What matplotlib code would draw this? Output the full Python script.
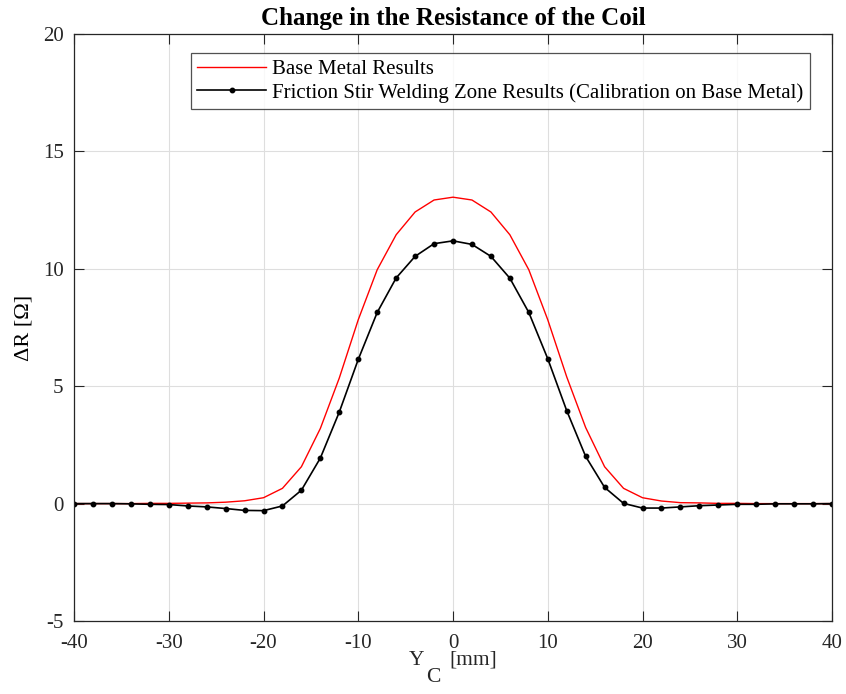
import numpy as np
import matplotlib
matplotlib.use("Agg")
import matplotlib.pyplot as plt

plt.rcParams['font.family'] = ['Liberation Serif', 'DejaVu Serif']
plt.rcParams['axes.unicode_minus'] = False

# Coil position Y_C [mm]
y_c = list(range(-40, 41, 2))

# Base metal resistance change [Ohm]
base_metal = [0.00, 0.00, 0.00, 0.00, 0.01, 0.01, 0.02, 0.03, 0.06, 0.12,
              0.25, 0.65, 1.57, 3.20, 5.35, 7.83, 9.96, 11.45, 12.42, 12.93,
              13.05,
              12.93, 12.42, 11.45, 9.96, 7.83, 5.40, 3.24, 1.57, 0.65, 0.25,
              0.11, 0.04, 0.03, 0.01, 0.01, 0.00, 0.00, 0.00, 0.00, 0.00]

# Friction stir welding zone resistance change [Ohm]
fsw_zone = [0.00, 0.00, 0.00, -0.01, -0.03, -0.04, -0.10, -0.14, -0.21, -0.29,
            -0.30, -0.10, 0.57, 1.94, 3.90, 6.14, 8.14, 9.61, 10.53, 11.07,
            11.19,
            11.04, 10.53, 9.60, 8.14, 6.17, 3.96, 2.01, 0.69, 0.01, -0.19,
            -0.19, -0.14, -0.09, -0.06, -0.03, -0.03, -0.01, -0.01, -0.01, 0.00]

x_ticks = [-40, -30, -20, -10, 0, 10, 20, 30, 40]
y_ticks = [-5, 0, 5, 10, 15, 20]

W, H = 846, 694
fig = plt.figure(figsize=(W / 100, H / 100), dpi=100)
ax = fig.add_axes([74 / W, 1 - 621 / H, (832 - 74) / W, (621 - 34) / H])

ax.plot(y_c, base_metal, color='#ff0000', lw=1.0, label='Base Metal Results')
ax.plot(y_c, fsw_zone, color='black', lw=1.2, marker='o', markersize=3.2,
        label='Friction Stir Welding Zone Results (Calibration on Base Metal)')

ax.set_xlim(-40, 40)
ax.set_ylim(-5, 20)
ax.set_xticks(x_ticks)
ax.set_yticks(y_ticks)
ax.grid(True, color='#dedede', lw=0.8)
ax.set_axisbelow(True)
ax.tick_params(direction='in', top=True, right=True, length=7, width=0.8,
               labelsize=15, colors='#262626')
ax.tick_params(axis='x', pad=9)
ax.tick_params(axis='y', pad=7.5)
for s in ax.spines.values():
    s.set_color('#262626')
    s.set_linewidth(0.9)

ax.set_title('Change in the Resistance of the Coil', fontsize=18,
             fontweight='bold', pad=6.5)
ax.set_ylabel('ΔR [Ω]', fontsize=16)
ax.yaxis.set_label_coords((33 - 74) / 758, 0.5)

leg = ax.legend(loc='upper left', bbox_to_anchor=((191 - 74) / 758, 1 - (53 - 34) / 587),
                fontsize=15, frameon=True, fancybox=False, edgecolor='#262626',
                handlelength=3.3, handletextpad=0.3, borderpad=0.3,
                labelspacing=0.2, borderaxespad=0)
leg.get_frame().set_linewidth(0.9)

# x-axis label: "Y" with a full-size lowered subscript "C", then "[mm]"
fig.canvas.draw()
renderer = fig.canvas.get_renderer()
lab_size = 15.5
base_y = 1 - 665 / H
parts = [('Y', 0, 2), ('C', -17, 9), ('[mm]', 0, 0)]
texts = []
for s, dy, gap in parts:
    t = fig.text(0, base_y, s, fontsize=lab_size, va='baseline', ha='left',
                 color='#262626')
    texts.append((t, dy, gap))
widths = [t.get_window_extent(renderer).width for t, _, _ in texts]
total = sum(widths) + sum(g for _, _, g in texts)
ax_bb = ax.get_window_extent(renderer)
x_px = (ax_bb.x0 + ax_bb.x1) / 2 - total / 2
for (t, dy, gap), w in zip(texts, widths):
    t.set_position((x_px / W, base_y + dy / H))
    x_px += w + gap

fig.savefig('out.png', dpi=100)
